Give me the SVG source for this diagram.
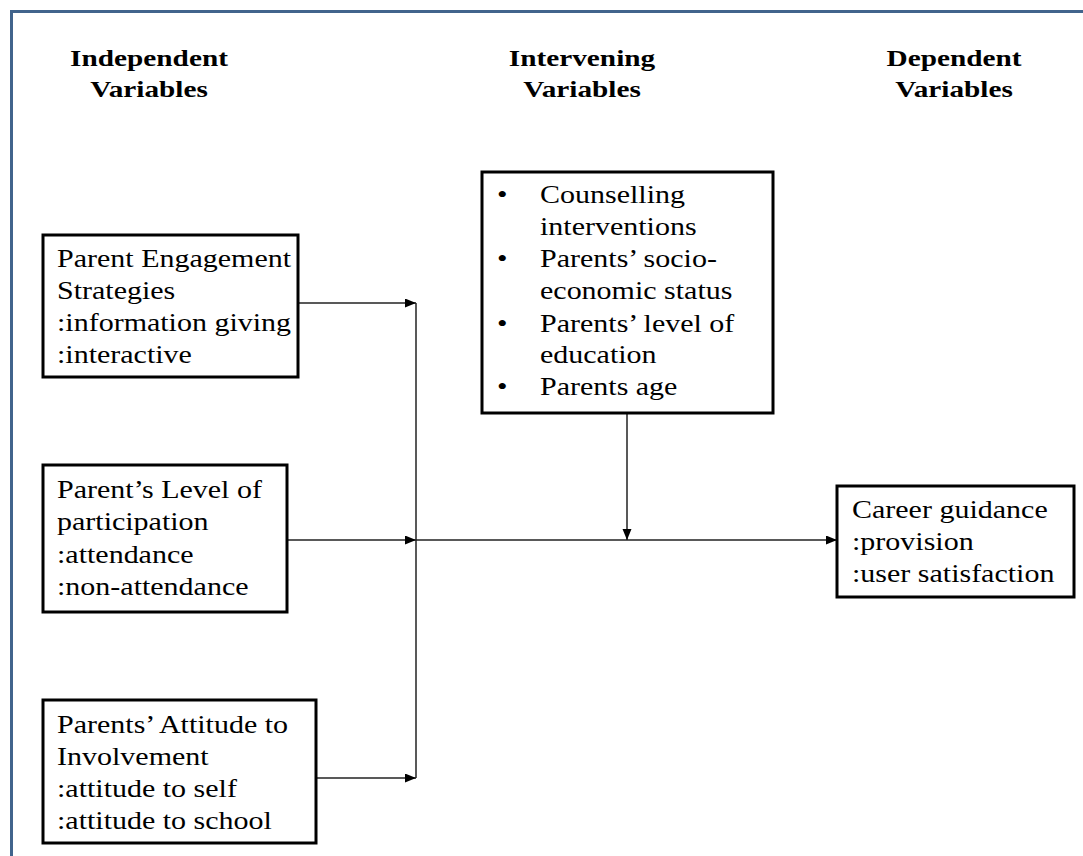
<svg xmlns="http://www.w3.org/2000/svg" width="1083" height="856" viewBox="0 0 1083 856">
<defs>
<style>
.box{fill:#fff;stroke:#000;stroke-width:3}
.t{font-family:"Liberation Serif","Times New Roman",serif;font-size:25px;fill:#000}
.h{font-family:"Liberation Serif","Times New Roman",serif;font-size:24px;font-weight:bold;fill:#000;text-anchor:middle}
.c{fill:none;stroke:#222;stroke-width:1.5}
</style>
<marker id="ah" markerUnits="userSpaceOnUse" markerWidth="12" markerHeight="10" refX="11" refY="4.5" orient="auto">
<path d="M0,0 L11,4.5 L0,9 z" fill="#000"/>
</marker>
</defs>
<rect x="0" y="0" width="1083" height="856" fill="#fff"/>
<rect x="11.5" y="11.5" width="1100" height="900" fill="none" stroke="#41648c" stroke-width="3"/>

<g id="headings">
<text class="h" transform="matrix(1.22,0,0,1,149,0)"><tspan x="0" y="66">Independent</tspan><tspan x="0" y="97">Variables</tspan></text>
<text class="h" transform="matrix(1.22,0,0,1,582,0)"><tspan x="0" y="66">Intervening</tspan><tspan x="0" y="97">Variables</tspan></text>
<text class="h" transform="matrix(1.22,0,0,1,954,0)"><tspan x="0" y="66">Dependent</tspan><tspan x="0" y="97">Variables</tspan></text>
</g>

<g id="connectors">
<line class="c" x1="298" y1="303" x2="416" y2="303" marker-end="url(#ah)"/>
<line class="c" x1="287" y1="540" x2="416" y2="540" marker-end="url(#ah)"/>
<line class="c" x1="316" y1="778" x2="416" y2="778" marker-end="url(#ah)"/>
<line class="c" x1="416" y1="303" x2="416" y2="778"/>
<line class="c" x1="416" y1="540" x2="837" y2="540" marker-end="url(#ah)"/>
<line class="c" x1="627" y1="413" x2="627" y2="540" marker-end="url(#ah)"/>
</g>

<g id="node-engagement">
<rect class="box" x="43" y="235" width="255" height="142"/>
<text class="t" transform="matrix(1.2,0,0,1,57,0)"><tspan x="0" y="267">Parent Engagement</tspan><tspan x="0" y="299">Strategies</tspan><tspan x="0" y="331">:information giving</tspan><tspan x="0" y="363">:interactive</tspan></text>
</g>

<g id="node-participation">
<rect class="box" x="43" y="465" width="244" height="147"/>
<text class="t" transform="matrix(1.2,0,0,1,57,0)"><tspan x="0" y="498">Parent’s Level of</tspan><tspan x="0" y="530">participation</tspan><tspan x="0" y="563">:attendance</tspan><tspan x="0" y="595">:non-attendance</tspan></text>
</g>

<g id="node-attitude">
<rect class="box" x="43" y="700" width="273" height="143"/>
<text class="t" transform="matrix(1.2,0,0,1,57,0)"><tspan x="0" y="733">Parents’ Attitude to</tspan><tspan x="0" y="765">Involvement</tspan><tspan x="0" y="797">:attitude to self</tspan><tspan x="0" y="829">:attitude to school</tspan></text>
</g>

<g id="node-intervening">
<rect class="box" x="482" y="172" width="291" height="241"/>
<text class="t" transform="matrix(1.2,0,0,1,497,0)"><tspan x="0" y="203">•</tspan><tspan x="0" y="267">•</tspan><tspan x="0" y="332">•</tspan><tspan x="0" y="395">•</tspan></text>
<text class="t" transform="matrix(1.2,0,0,1,540,0)"><tspan x="0" y="203">Counselling</tspan><tspan x="0" y="235">interventions</tspan><tspan x="0" y="267">Parents’ socio-</tspan><tspan x="0" y="299">economic status</tspan><tspan x="0" y="332">Parents’ level of</tspan><tspan x="0" y="363">education</tspan><tspan x="0" y="395">Parents age</tspan></text>
</g>

<g id="node-career">
<rect class="box" x="837" y="486" width="237" height="111"/>
<text class="t" transform="matrix(1.2,0,0,1,852,0)"><tspan x="0" y="518">Career guidance</tspan><tspan x="0" y="550">:provision</tspan><tspan x="0" y="582">:user satisfaction</tspan></text>
</g>
</svg>
